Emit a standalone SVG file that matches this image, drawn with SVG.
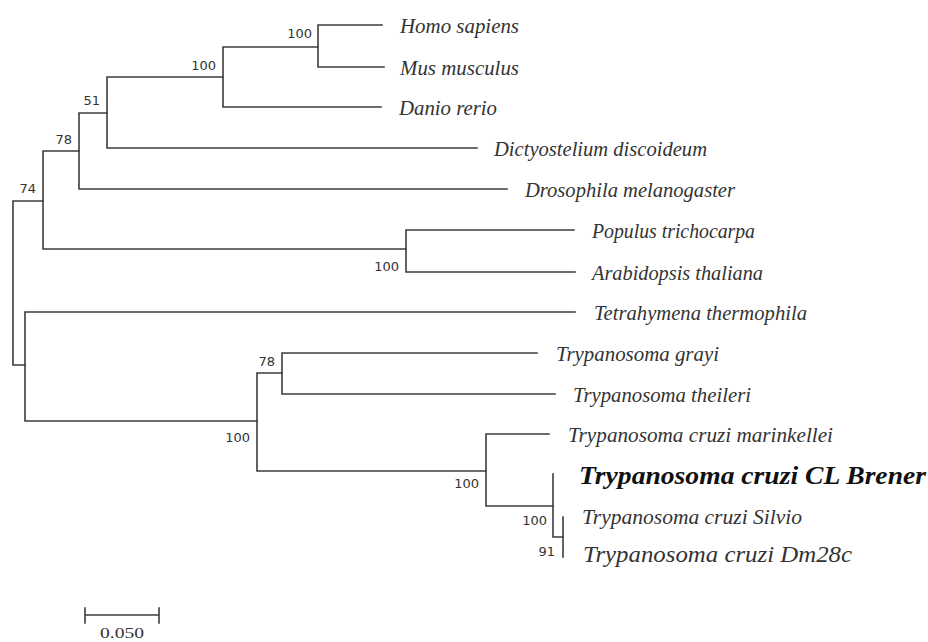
<svg xmlns="http://www.w3.org/2000/svg" width="928" height="642" viewBox="0 0 928 642">
<style>
.br{fill:none;stroke:#3c3c3c;stroke-width:1.6;stroke-linecap:square}
.sp{font-family:"Liberation Serif",serif;font-style:italic;font-size:20px;fill:#333}
.bs{font-family:"DejaVu Sans","Liberation Sans",sans-serif;font-size:13px;fill:#333;text-anchor:end}
.sc{font-family:"Liberation Serif",serif;font-size:15px;fill:#333}
</style>
<rect width="928" height="642" fill="#fff"/>
<g id="connectors" class="br">
<path d="M13 201V365M13 201H43M13 365H25"/>
<path d="M43 151V249M43 151H79M43 249H406"/>
<path d="M79 113V189M79 113H107M79 189H507"/>
<path d="M107 77V148M107 77H223M107 148H477"/>
<path d="M223 47V107M223 47H318M223 107H381"/>
<path d="M318 25V67M318 25H382M318 67H384"/>
<path d="M406 230V272M406 230H574M406 272H575"/>
<path d="M25 312V421M25 312H575M25 421H257"/>
<path d="M257 373V471M257 373H282M257 471H486"/>
<path d="M282 353V394M282 353H537M282 394H555"/>
<path d="M486 434V506M486 434H549M486 506H553"/>
<path d="M553 474V537M553 537H563"/>
<path d="M563 517V557"/>
</g>
<g id="support">
<text class="bs" x="312" y="38">100</text>
<text class="bs" x="216" y="70">100</text>
<text class="bs" x="100" y="105">51</text>
<text class="bs" x="72" y="144">78</text>
<text class="bs" x="36" y="193">74</text>
<text class="bs" x="399" y="271">100</text>
<text class="bs" x="275" y="366">78</text>
<text class="bs" x="250" y="442">100</text>
<text class="bs" x="479" y="488">100</text>
<text class="bs" x="547" y="525">100</text>
<text class="bs" x="555" y="556">91</text>
</g>
<g id="homo"><text class="sp" x="400" y="33" textLength="119" lengthAdjust="spacingAndGlyphs">Homo sapiens</text></g>
<g id="mus"><text class="sp" x="400" y="75" textLength="119" lengthAdjust="spacingAndGlyphs">Mus musculus</text></g>
<g id="danio"><text class="sp" x="399" y="115" textLength="98" lengthAdjust="spacingAndGlyphs">Danio rerio</text></g>
<g id="dicty"><text class="sp" x="494" y="156" textLength="213" lengthAdjust="spacingAndGlyphs">Dictyostelium discoideum</text></g>
<g id="droso"><text class="sp" x="525" y="197" textLength="210" lengthAdjust="spacingAndGlyphs">Drosophila melanogaster</text></g>
<g id="populus"><text class="sp" x="592" y="238" textLength="163" lengthAdjust="spacingAndGlyphs">Populus trichocarpa</text></g>
<g id="arabidopsis"><text class="sp" x="592" y="280" textLength="171" lengthAdjust="spacingAndGlyphs">Arabidopsis thaliana</text></g>
<g id="tetrahymena"><text class="sp" x="594" y="320" textLength="213" lengthAdjust="spacingAndGlyphs">Tetrahymena thermophila</text></g>
<g id="grayi"><text class="sp" x="556" y="361" textLength="163" lengthAdjust="spacingAndGlyphs">Trypanosoma grayi</text></g>
<g id="theileri"><text class="sp" x="573" y="402" textLength="178" lengthAdjust="spacingAndGlyphs">Trypanosoma theileri</text></g>
<g id="marinkellei"><text class="sp" x="568" y="442" textLength="265" lengthAdjust="spacingAndGlyphs">Trypanosoma cruzi marinkellei</text></g>
<g id="clbrener"><text x="579" y="484" textLength="347" lengthAdjust="spacingAndGlyphs" style="font-family:'Liberation Serif',serif;font-style:italic;font-weight:bold;font-size:25px;fill:#111">Trypanosoma cruzi CL Brener</text></g>
<g id="silvio"><text class="sp" x="582" y="524" textLength="220" lengthAdjust="spacingAndGlyphs">Trypanosoma cruzi Silvio</text></g>
<g id="dm28c"><text class="sp" x="583" y="562" textLength="269" lengthAdjust="spacingAndGlyphs" style="font-size:23px">Trypanosoma cruzi Dm28c</text></g>
<g id="scalebar">
<path class="br" d="M85 615H159M85 608V623M159 608V623"/>
<text class="sc" x="100" y="638" textLength="44" lengthAdjust="spacingAndGlyphs">0.050</text>
</g>
</svg>
